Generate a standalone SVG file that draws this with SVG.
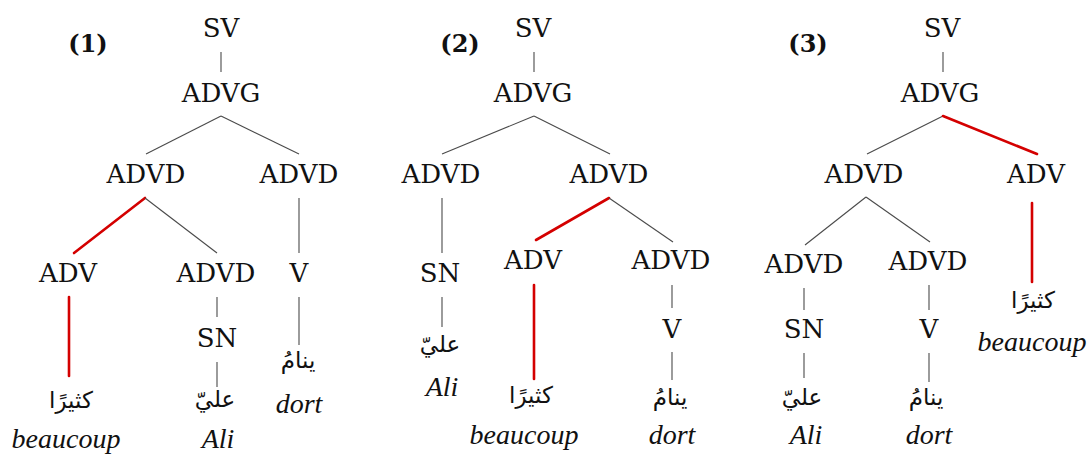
<svg xmlns="http://www.w3.org/2000/svg" width="1091" height="457" viewBox="0 0 1091 457">
<style>
.n{font-family:"DejaVu Serif","Liberation Serif",serif;font-size:26px;fill:#111;text-anchor:middle}
.b{font-family:"DejaVu Serif","Liberation Serif",serif;font-size:24px;font-weight:bold;fill:#111;text-anchor:middle}
.i{font-family:"Liberation Serif","DejaVu Serif",serif;font-size:28px;font-style:italic;fill:#111;text-anchor:middle}
.a{font-family:"DejaVu Sans",sans-serif;font-size:23px;fill:#111;text-anchor:middle}
.g{stroke:#4a4a4a;stroke-width:1.1;fill:none}
.r{stroke:#d40000;stroke-width:2.6;fill:none;stroke-linecap:round}
</style>
<rect width="1091" height="457" fill="#fff"/>
<g id="connectors">
<line class="g" x1="221" y1="52" x2="221" y2="72"/>
<line class="g" x1="221" y1="116" x2="146" y2="154"/>
<line class="g" x1="221" y1="116" x2="299" y2="154"/>
<line class="r" x1="145" y1="198" x2="74" y2="253"/>
<line class="g" x1="145" y1="198" x2="217" y2="253"/>
<line class="g" x1="299" y1="198" x2="299" y2="253"/>
<line class="r" x1="69" y1="297" x2="69" y2="376"/>
<line class="g" x1="217" y1="297" x2="217" y2="317"/>
<line class="g" x1="217" y1="362" x2="217" y2="387"/>
<line class="g" x1="299" y1="297" x2="299" y2="345"/>
<line class="g" x1="534" y1="52" x2="534" y2="72"/>
<line class="g" x1="534" y1="116" x2="442" y2="154"/>
<line class="g" x1="534" y1="116" x2="610" y2="154"/>
<line class="g" x1="442" y1="198" x2="442" y2="253"/>
<line class="r" x1="609" y1="198" x2="536" y2="240"/>
<line class="g" x1="609" y1="198" x2="673" y2="242"/>
<line class="g" x1="442" y1="297" x2="442" y2="327"/>
<line class="r" x1="534" y1="285" x2="534" y2="379"/>
<line class="g" x1="672" y1="285" x2="672" y2="308"/>
<line class="g" x1="672" y1="352" x2="672" y2="380"/>
<line class="g" x1="943" y1="52" x2="943" y2="72"/>
<line class="g" x1="943" y1="116" x2="867" y2="154"/>
<line class="r" x1="943" y1="116" x2="1037" y2="154"/>
<line class="g" x1="866" y1="197" x2="805" y2="245"/>
<line class="g" x1="866" y1="197" x2="930" y2="242"/>
<line class="r" x1="1032" y1="203" x2="1032" y2="282"/>
<line class="g" x1="804" y1="288" x2="804" y2="310"/>
<line class="g" x1="804" y1="353" x2="804" y2="378"/>
<line class="g" x1="929" y1="285" x2="929" y2="310"/>
<line class="g" x1="929" y1="353" x2="929" y2="382"/>
</g>
<g id="tree1">
<text class="b" x="88" y="52">(1)</text>
<g id="t1-sv"><text class="n" x="221" y="37">SV</text></g>
<g id="t1-advg"><text class="n" x="221" y="102">ADVG</text></g>
<g id="t1-advd1"><text class="n" x="146" y="183">ADVD</text></g>
<g id="t1-advd2"><text class="n" x="299" y="183">ADVD</text></g>
<g id="t1-adv"><text class="n" x="68" y="282">ADV</text></g>
<g id="t1-advd3"><text class="n" x="216" y="282">ADVD</text></g>
<g id="t1-v"><text class="n" x="299" y="282">V</text></g>
<g id="t1-sn"><text class="n" x="217" y="347">SN</text></g>
<g id="t1-yanam"><text class="a" x="298" y="368">ينامُ</text><text class="i" x="299" y="413">dort</text></g>
<g id="t1-kathiran"><text class="a" x="71" y="408">كثيرًا</text><text class="i" x="66" y="448">beaucoup</text></g>
<g id="t1-ali"><text class="a" x="215" y="407">عليّ</text><text class="i" x="218" y="448">Ali</text></g>
</g>
<g id="tree2">
<text class="b" x="460" y="52">(2)</text>
<g id="t2-sv"><text class="n" x="533" y="37">SV</text></g>
<g id="t2-advg"><text class="n" x="533" y="102">ADVG</text></g>
<g id="t2-advd1"><text class="n" x="441" y="183">ADVD</text></g>
<g id="t2-advd2"><text class="n" x="609" y="183">ADVD</text></g>
<g id="t2-sn"><text class="n" x="440" y="282">SN</text></g>
<g id="t2-adv"><text class="n" x="533" y="269">ADV</text></g>
<g id="t2-advd3"><text class="n" x="671" y="269">ADVD</text></g>
<g id="t2-v"><text class="n" x="672" y="338">V</text></g>
<g id="t2-ali"><text class="a" x="440" y="352">عليّ</text><text class="i" x="442" y="396">Ali</text></g>
<g id="t2-kathiran"><text class="a" x="531" y="403">كثيرًا</text><text class="i" x="524" y="444">beaucoup</text></g>
<g id="t2-yanam"><text class="a" x="670" y="405">ينامُ</text><text class="i" x="672" y="444">dort</text></g>
</g>
<g id="tree3">
<text class="b" x="808" y="52">(3)</text>
<g id="t3-sv"><text class="n" x="942" y="37">SV</text></g>
<g id="t3-advg"><text class="n" x="940" y="102">ADVG</text></g>
<g id="t3-advd1"><text class="n" x="864" y="183">ADVD</text></g>
<g id="t3-adv"><text class="n" x="1036" y="183">ADV</text></g>
<g id="t3-advd2"><text class="n" x="804" y="273">ADVD</text></g>
<g id="t3-advd3"><text class="n" x="928" y="270">ADVD</text></g>
<g id="t3-sn"><text class="n" x="804" y="338">SN</text></g>
<g id="t3-v"><text class="n" x="929" y="338">V</text></g>
<g id="t3-ali"><text class="a" x="802" y="405">عليّ</text><text class="i" x="806" y="444">Ali</text></g>
<g id="t3-yanam"><text class="a" x="926" y="405">ينامُ</text><text class="i" x="929" y="444">dort</text></g>
<g id="t3-kathiran"><text class="a" x="1033" y="308">كثيرًا</text><text class="i" x="1032" y="351">beaucoup</text></g>
</g>
</svg>
